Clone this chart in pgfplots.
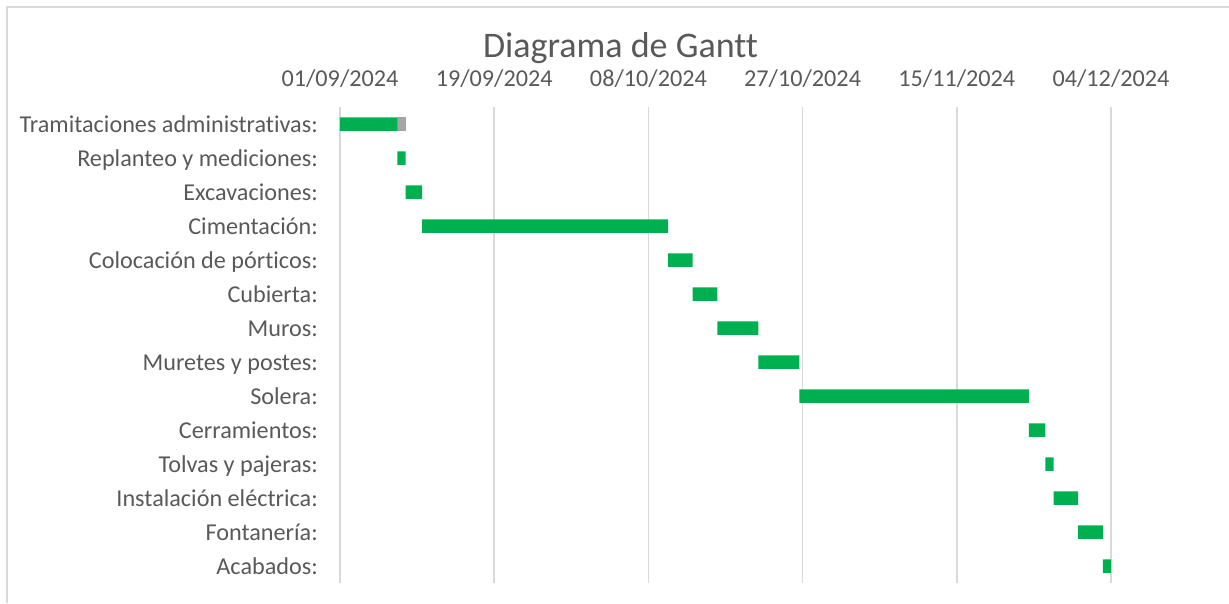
\documentclass[border=0pt]{standalone}
\usepackage{fontspec}
\setmainfont[Ligatures=NoCommon]{Carlito}
\usepackage{pgfplots}
\usepackage{pgfplotstable}
\pgfplotsset{compat=1.18}
\definecolor{tgreen}{HTML}{00B050}
\definecolor{tgrey}{HTML}{A5A5A5}
\definecolor{ttext}{HTML}{595959}
\definecolor{tgrid}{HTML}{D9D9D9}
\pgfplotstableread{
idx start dur extra
0 0 7 1
1 7 1 0
2 8 2 0
3 10 30 0
4 40 3 0
5 43 3 0
6 46 5 0
7 51 5 0
8 56 28 0
9 84 2 0
10 86 1 0
11 87 3 0
12 90 3 0
13 93 1 0
}\tasks
\begin{document}
\begin{tikzpicture}
\path[use as bounding box] (0pt,0pt) rectangle (1229pt,603pt);
\draw[tgrid, line width=1.4pt] (7pt,0pt) -- (7pt,596pt) -- (1229pt,596pt);
\node[anchor=base, text=ttext, font=\fontsize{36}{40}\selectfont, inner sep=0pt, text depth=0pt] at (620.5pt,545pt) {Diagrama de Gantt};
\begin{axis}[
  at={(340pt,20pt)}, anchor=south west,
  width=771pt, height=476pt, scale only axis,
  xbar stacked, bar width=13.5pt,
  xmin=0, xmax=94,
  ymin=-0.5, ymax=13.5, y dir=reverse,
  xtick={0,18.8,37.6,56.4,75.2,94},
  xticklabels={01/09/2024,19/09/2024,08/10/2024,27/10/2024,15/11/2024,04/12/2024},
  xticklabel pos=upper,
  ytick={0,...,13},
  yticklabels={Tramitaciones administrativas:,Replanteo y mediciones:\ ,Excavaciones:,Cimentación:,Colocación de pórticos:,Cubierta:,Muros:,Muretes y postes:,Solera:,Cerramientos:,Tolvas y pajeras:,Instalación eléctrica:,Fontanería:,Acabados:},
  major tick length=0pt,
  axis line style={draw=none},
  xmajorgrids, major grid style={tgrid, line width=1.5pt},
  ticklabel style={text=ttext, font=\fontsize{24.2}{28}\selectfont},
  xticklabel style={anchor=base, inner sep=0pt, yshift=21pt},
  yticklabel style={anchor=base east, inner sep=0pt, xshift=-22pt, yshift=-8pt},
]
\addplot[draw=none, fill=none] table[x=start, y=idx] {\tasks};
\addplot[draw=none, fill=tgreen] table[x=dur, y=idx] {\tasks};
\addplot[draw=none, fill=tgrey] table[x=extra, y=idx] {\tasks};
\end{axis}
\end{tikzpicture}
\end{document}
